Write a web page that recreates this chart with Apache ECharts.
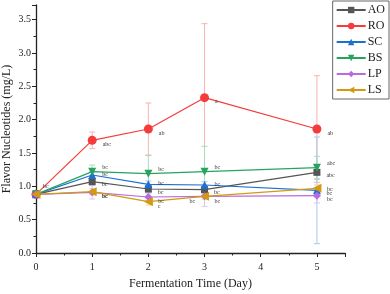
<!DOCTYPE html>
<html><head><meta charset="utf-8">
<script src="https://cdn.jsdelivr.net/npm/echarts@6/dist/echarts.min.js"></script>
<style>html,body{margin:0;padding:0;background:#fff}#c{width:390px;height:294px}</style>
</head><body><div id="c"></div>
<script>
const days = [0, 1, 2, 3, 5];
const seriesNames = ['AO', 'RO', 'SC', 'BS', 'LP', 'LS'];
const AO = [0.88, 1.07, 0.96, 0.95, 1.21];
const RO = [0.88, 1.69, 1.86, 2.33, 1.86];
const SC = [0.88, 1.17, 1.03, 1.02, 0.94];
const BS = [0.88, 1.22, 1.19, 1.22, 1.28];
const LP = [0.88, 0.91, 0.84, 0.85, 0.86];
const LS = [0.88, 0.92, 0.77, 0.85, 0.97];
const AO_sd = [0.02, 0.05, 0.05, 0.05, 0.1];
const RO_sd = [0.02, 0.125, 0.39, 1.11, 0.8];
const SC_sd = [0.02, 0.05, 0.05, 0.05, 0.8];
const BS_sd = [0.02, 0.1, 0.27, 0.38, 0.17];
const LP_sd = [0.02, 0.1, 0.05, 0.15, 0.11];
const LS_sd = [0.02, 0.05, 0.05, 0.05, 0.05];
const AO_lab = ['', 'bc', 'bc', 'bc', 'abc'];
const RO_lab = ['', 'abc', 'ab', 'a', 'ab'];
const SC_lab = ['', 'bc', 'bc', 'bc', 'bc'];
const BS_lab = ['bc', 'bc', 'bc', 'bc', 'abc'];
const LP_lab = ['', 'bc', 'bc', 'bc', 'bc'];
const LS_lab = ['', 'bc', 'c', 'bc', 'bc'];
const yTicks = ['0.0', '0.5', '1.0', '1.5', '2.0', '2.5', '3.0', '3.5'];
const xTicks = ['0', '1', '2', '3', '4', '5'];

const vals = [AO, RO, SC, BS, LP, LS];
const sds = [AO_sd, RO_sd, SC_sd, BS_sd, LP_sd, LS_sd];
const labs = [AO_lab, RO_lab, SC_lab, BS_lab, LP_lab, LS_lab];
const colors = ['#555555', '#f53b3b', '#1f6ed4', '#27a35f', '#b86ae0', '#d19a10'];
const errColors = ['#b8b8b8', '#f7b3b3', '#a9c6ee', '#a9dcbf', '#e0c3f2', '#efd9a0'];
const symbols = ['rect', 'circle', 'triangle', 'path://M0,0 L10,0 L5,9 Z', 'diamond', 'path://M0,5 L9,0 L9,10 Z'];
const sizes = [7, 9, 8, 8, 8, 9];
const labOffsets = [[1, 3], [1, 4], [1, -1], [1, -4], [1, 4], [0, 5]];

const series = [];
seriesNames.forEach((n, i) => {
  series.push({
    type: 'custom', name: n + '_err', silent: true, z: 1,
    data: days.map((d, j) => [d, vals[i][j] - sds[i][j], vals[i][j] + sds[i][j]]),
    renderItem: function (params, api) {
      const x = api.value(0);
      const lo = api.coord([x, api.value(1)]);
      const hi = api.coord([x, api.value(2)]);
      const w = 3;
      const st = { stroke: errColors[i], lineWidth: 1 };
      return { type: 'group', children: [
        { type: 'line', shape: { x1: lo[0], y1: lo[1], x2: hi[0], y2: hi[1] }, style: st },
        { type: 'line', shape: { x1: lo[0] - w, y1: lo[1], x2: lo[0] + w, y2: lo[1] }, style: st },
        { type: 'line', shape: { x1: hi[0] - w, y1: hi[1], x2: hi[0] + w, y2: hi[1] }, style: st }
      ]};
    }
  });
});
seriesNames.forEach((n, i) => {
  series.push({
    type: 'line', name: n, z: 3,
    symbol: symbols[i], symbolSize: sizes[i],
    itemStyle: { color: colors[i] },
    lineStyle: { color: colors[i], width: 1.2 },
    data: days.map((d, j) => {
      const item = { value: [d, vals[i][j]] };
      let pos = 'right', off = labOffsets[i];
      if (i === 5 && j === 3) { pos = 'left'; off = [0, 5]; }
      if (i === 4 && j === 3) { off = [1, 5]; }
      if (i === 3 && j === 0) { off = [-2, -8]; }
      item.label = { show: labs[i][j] !== '', position: pos, offset: off,
        formatter: labs[i][j], fontSize: 6, color: '#333', fontFamily: 'Liberation Serif' };
      return item;
    })
  });
});

const chart = echarts.init(document.getElementById('c'), null, { renderer: 'canvas' });
chart.setOption({
  animation: false,
  backgroundColor: '#fff',
  grid: { left: 36, right: 45, top: 5, bottom: 41, containLabel: false, outerBoundsMode: 'none' },
  legend: {
    data: seriesNames, orient: 'vertical', right: 1, top: 1,
    itemWidth: 29, itemHeight: 8, itemGap: 4,
    padding: [3, 4, 3, 3],
    borderColor: '#666', borderWidth: 1, backgroundColor: '#fff',
    textStyle: { fontFamily: 'Liberation Serif', fontSize: 12, color: '#222', lineHeight: 12, padding: [0, 0, 0, -3] }
  },
  xAxis: {
    type: 'value', min: 0, max: 5.5, interval: 1,
    name: 'Fermentation Time (Day)', nameLocation: 'middle', nameGap: 25, nameMoveOverlap: false,
    nameTextStyle: { fontFamily: 'Liberation Serif', fontSize: 12, color: '#222' },
    axisLine: { lineStyle: { color: '#222', width: 1.3 } },
    axisTick: { show: true, length: 4, lineStyle: { color: '#222' } },
    minorTick: { show: true, splitNumber: 2, length: 2.5, lineStyle: { color: '#222' } },
    splitLine: { show: false },
    axisLabel: { fontFamily: 'Liberation Serif', fontSize: 10, color: '#222', margin: 9,
      formatter: v => xTicks.indexOf(String(v)) >= 0 ? String(v) : '' }
  },
  yAxis: {
    type: 'value', min: 0, max: 3.72, interval: 0.5,
    name: 'Flavor Nucleotides (mg/L)', nameLocation: 'middle', nameGap: 23, nameMoveOverlap: false,
    nameTextStyle: { fontFamily: 'Liberation Serif', fontSize: 12, color: '#222' },
    axisLine: { show: true, lineStyle: { color: '#222', width: 1.3 } },
    axisTick: { show: true, length: 4, lineStyle: { color: '#222' } },
    minorTick: { show: true, splitNumber: 2, length: 2.5, lineStyle: { color: '#222' } },
    splitLine: { show: false },
    axisLabel: { fontFamily: 'Liberation Serif', fontSize: 10, color: '#222', margin: 5,
      showMaxLabel: false,
      formatter: v => { const s = v.toFixed(1); return yTicks.indexOf(s) >= 0 && Math.abs(v*2 - Math.round(v*2)) < 1e-6 ? s : ''; } }
  },
  series: series
});
</script>
</body></html>
